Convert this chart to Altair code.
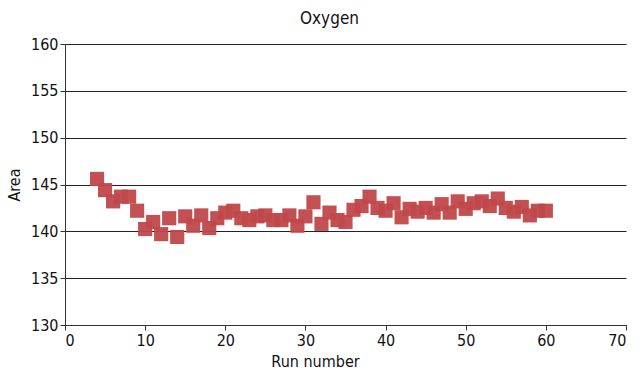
import altair as alt
import pandas as pd

run = list(range(4, 61))
area = [145.6, 144.4, 143.2, 143.7, 143.7, 142.2, 140.25, 141.0, 139.7, 141.4,
        139.4, 141.6, 140.6, 141.7, 140.35, 141.4, 142.0, 142.2, 141.4, 141.2,
        141.6, 141.7, 141.2, 141.2, 141.7, 140.6, 141.6, 143.1, 140.8, 142.0,
        141.2, 141.0, 142.3, 142.7, 143.7, 142.5, 142.2, 143.0, 141.5, 142.4,
        142.1, 142.5, 142.0, 142.9, 142.0, 143.2, 142.4, 143.0, 143.2, 142.7,
        143.5, 142.5, 142.1, 142.6, 141.7, 142.2, 142.2]

df = pd.DataFrame({"Run number": run, "Area": area})

FONT = "'DejaVu Sans Condensed', 'Liberation Sans Narrow', Roboto, sans-serif"

chart = alt.Chart(df).mark_square(size=200, color="#c0474a", opacity=0.95).encode(
    x=alt.X("Run number:Q",
            scale=alt.Scale(domain=[0, 70], nice=False),
            axis=alt.Axis(values=list(range(0, 71, 10)), grid=False,
                          titleX=250, titlePadding=5)),
    y=alt.Y("Area:Q",
            scale=alt.Scale(domain=[130, 160], nice=False, zero=False),
            axis=alt.Axis(values=list(range(130, 161, 5)), grid=True,
                          titlePadding=8)),
).properties(
    width=561, height=281,
    title=alt.TitleParams("Oxygen", font=FONT, fontSize=17, fontWeight="normal",
                          color="#111", anchor="middle", dx=-16, offset=8),
    padding={"left": 65, "top": 44, "right": 13, "bottom": 54},
    autosize=alt.AutoSizeParams(type="none"),
).configure_axis(
    labelFont=FONT, titleFont=FONT, labelFontSize=16, titleFontSize=16,
    titleFontWeight="normal", labelColor="#111", titleColor="#111",
    domainColor="#333", tickColor="#333", gridColor="#222", gridWidth=1,
    tickSize=5, labelPadding=2,
).configure_view(stroke=None)

chart.save("out.html", embed_options={"renderer": "svg", "actions": False})
